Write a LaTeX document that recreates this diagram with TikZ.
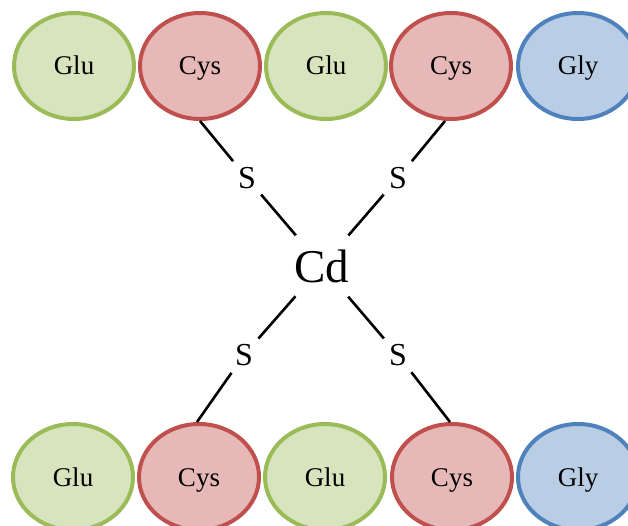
\documentclass[tikz,border=0pt]{standalone}
\usepackage{fontspec}
\setmainfont{Liberation Serif}
\usepackage{xcolor}
\usetikzlibrary{shapes,positioning}

\definecolor{glufill}{HTML}{D7E4BD}
\definecolor{gluline}{HTML}{9BBB59}
\definecolor{cysfill}{HTML}{E6B9B8}
\definecolor{cysline}{HTML}{C0504D}
\definecolor{glyfill}{HTML}{B9CDE5}
\definecolor{glyline}{HTML}{4F81BD}

\begin{document}
\begin{tikzpicture}[x=1pt, y=-1pt, line width=2.6pt,
    residue/.style={ellipse, line width=4pt, minimum width=120pt, minimum height=106pt, inner sep=0pt, text height=18pt, text depth=0pt, font=\fontsize{27}{30}\selectfont},
    glu/.style={residue, draw=gluline, fill=glufill},
    cys/.style={residue, draw=cysline, fill=cysfill},
    gly/.style={residue, draw=glyline, fill=glyfill},
    sulfur/.style={circle, inner sep=0pt, minimum size=41pt, font=\fontsize{32}{34}\selectfont},
    metal/.style={circle, inner sep=0pt, minimum size=78pt, font=\fontsize{47}{50}\selectfont}]
    \useasboundingbox (0,0) rectangle (628,526);
    \clip (0,0) rectangle (628,526);

    % top chain
    \node[glu] (glu1) at (74,66) {Glu};
    \node[cys] (cys1) at (200,66) {Cys};
    \node[glu] (glu2) at (326,66) {Glu};
    \node[cys] (cys2) at (451,66) {Cys};
    \node[gly] (gly1) at (578,66) {Gly};

    % bottom chain
    \node[glu] (glu3) at (73,477) {Glu};
    \node[cys] (cys3) at (199,477) {Cys};
    \node[glu] (glu4) at (325,477) {Glu};
    \node[cys] (cys4) at (452,477) {Cys};
    \node[gly] (gly2) at (578,477) {Gly};

    \node[metal] (cd) at (322,266) {Cd};
    \node[sulfur] (s1) at (247,178) {S};
    \node[sulfur] (s2) at (398,178) {S};
    \node[sulfur] (s3) at (244,355) {S};
    \node[sulfur] (s4) at (398,355) {S};

    \draw (cys1.south) -- (s1) -- (cd) -- (s4) -- ([xshift=-2pt]cys4.north);
    \draw ([xshift=-6pt]cys2.south) -- (s2) -- (cd) -- (s3) -- ([xshift=-2pt]cys3.north);
\end{tikzpicture}
\end{document}
